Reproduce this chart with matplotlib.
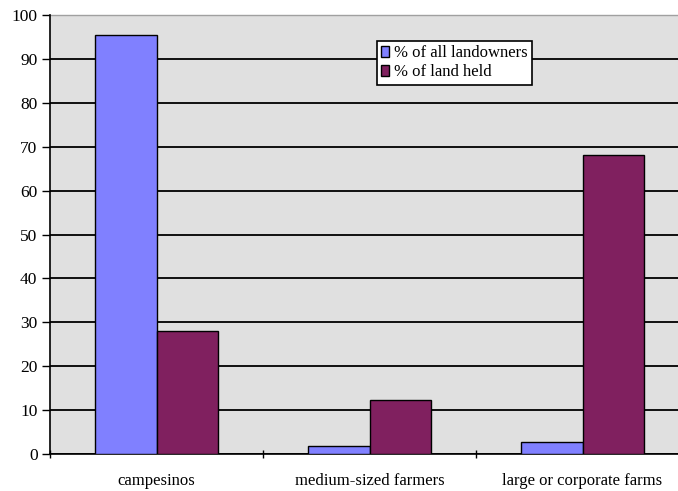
import matplotlib
matplotlib.use("Agg")
import matplotlib.pyplot as plt
import numpy as np

categories = ["campesinos", "medium-sized farmers", "large or corporate farms"]
pct_landowners = [95.5, 1.8, 2.8]
pct_land_held = [28, 12.3, 68.2]
series_names = ["% of all landowners", "% of land held"]

plt.rcParams['font.family'] = ['Liberation Serif', 'DejaVu Serif']

fig = plt.figure(figsize=(6.78, 4.91), dpi=100)
# plot area runs a little past the right edge of the image
ax = fig.add_axes([50 / 678, 1 - 454 / 491, 639 / 678, 439 / 491])
ax.set_facecolor('#e0e0e0')

x = np.arange(len(categories))
w = 0.287
ax.bar(x - w / 2, pct_landowners, w, color='#8080ff', edgecolor='black',
       linewidth=1, label=series_names[0], zorder=3)
ax.bar(x + w / 2, pct_land_held, w, color='#80205f', edgecolor='black',
       linewidth=1, label=series_names[1], zorder=3)

ax.set_xlim(-0.5, 2.5)
ax.set_ylim(0, 100)
ax.set_yticks(range(0, 101, 10))
ax.yaxis.grid(True, color='black', linewidth=1.3, zorder=1)
ax.set_axisbelow(True)

# category labels centred, tick marks on the boundaries
ax.set_xticks(x)
ax.set_xticklabels(categories, fontsize=12)
ax.tick_params(axis='x', length=0, pad=14)
ax.set_xticks([-0.5, 0.5, 1.5], minor=True)
ax.tick_params(axis='x', which='minor', length=6, width=1, direction='inout')
ax.tick_params(axis='y', length=6, width=1, labelsize=12.5, pad=3)

for side in ['top', 'right']:
    ax.spines[side].set_visible(False)
ax.spines['left'].set_linewidth(1.2)
ax.spines['bottom'].set_linewidth(1.2)
ax.plot([-0.5, 2.5], [100, 100], color='#a0a0a0', linewidth=1, zorder=2, clip_on=False)

leg = ax.legend(loc='upper left', bbox_to_anchor=((377 - 50) / 639, (454 - 41) / 439),
                fontsize=12, frameon=True, fancybox=False, framealpha=1,
                edgecolor='black', handlelength=0.45, handleheight=0.6,
                handletextpad=0.35, borderpad=0.25, labelspacing=0.2,
                borderaxespad=0)
leg.get_frame().set_linewidth(1.2)

fig.savefig('out.png', dpi=100)
